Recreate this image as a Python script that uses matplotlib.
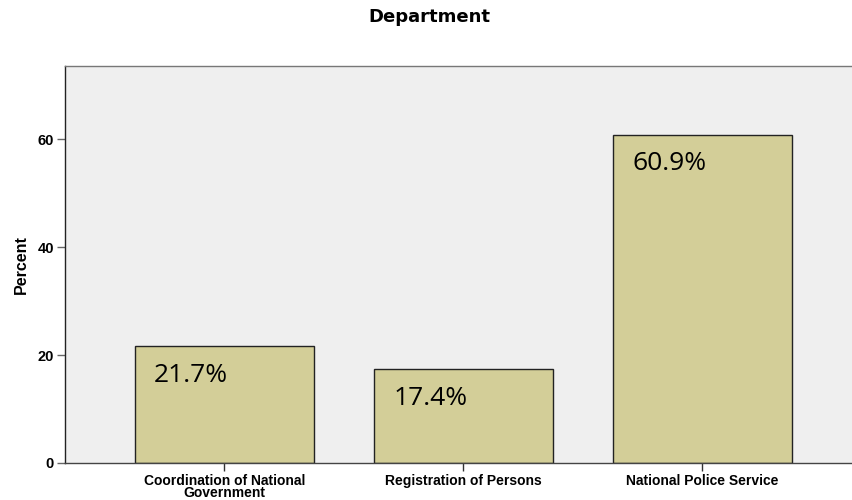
import matplotlib
matplotlib.use('Agg')
import matplotlib.pyplot as plt

categories = ['Coordination of National\nGovernment', 'Registration of Persons', 'National Police Service']
percents = [21.7, 17.4, 60.9]
labels = ['21.7%', '17.4%', '60.9%']

fig = plt.figure(figsize=(8.53, 5.0), dpi=100)
ax = fig.add_axes([65/853, 37/500, 1 - 65/853 + 0.01, 397/500])
ax.set_facecolor('#efefef')

pos = [1, 2, 3]
bars = ax.bar(pos, percents, width=0.75, color='#d3ce98', edgecolor='#222222', linewidth=1.0, zorder=2)

# percent labels, top-left inside each bar
for b, lab in zip(bars, labels):
    ax.annotate(lab, (b.get_x(), b.get_height()), xytext=(14, -12), textcoords='offset points',
                ha='left', va='top', fontsize=19, family='Open Sans', color='black', zorder=3)

ax.set_xlim(1 - 160/240, 3 + 160/240)
ax.set_ylim(0, 73.6)
ax.set_xticks(pos)
ax.set_xticklabels(categories, fontsize=10, fontweight='bold', family='Liberation Sans', linespacing=0.8)
ax.set_yticks([0, 20, 40, 60])
ax.set_yticklabels(['0', '20', '40', '60'], fontsize=10.5, fontweight='bold', family='Liberation Sans')
ax.tick_params(axis='x', length=6, width=1, color='#333333', pad=2)
ax.tick_params(axis='y', length=6, width=1, color='#666666', pad=2)

ax.set_ylabel('Percent', fontsize=11.5, fontweight='bold', family='Liberation Sans', labelpad=6)
fig.suptitle('Department', x=0.503, y=0.985, fontsize=13, fontweight='bold', family='DejaVu Sans')

ax.spines['right'].set_visible(False)
ax.spines['top'].set_color('#777777')
ax.spines['left'].set_color('#222222')
ax.spines['bottom'].set_color('#444444')
for s in ax.spines.values():
    s.set_linewidth(1.0)

fig.savefig('out.png', dpi=100)
